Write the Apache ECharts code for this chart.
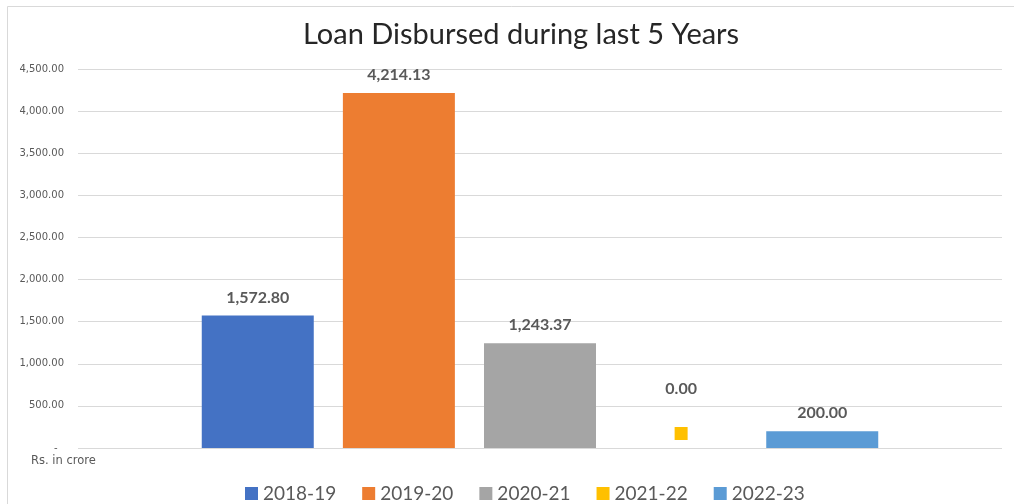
<!DOCTYPE html>
<html>
<head>
<meta charset="utf-8">
<script src="https://cdn.jsdelivr.net/npm/echarts@6/dist/echarts.min.js"></script>
<style>html,body{margin:0;padding:0;background:#fff;}#c{width:1014px;height:504px;}</style>
</head>
<body>
<div id="c"></div>
<script>
const categories = ['Loan Disbursed'];
const seriesNames = ['2018-19', '2019-20', '2020-21', '2021-22', '2022-23'];
const loanValues = [1572.80, 4214.13, 1243.37, 0.00, 200.00];
const colors = ['#4472C4', '#ED7D31', '#A5A5A5', '#FFC000', '#5B9BD5'];
const yTicks = { min: 0, max: 4500, interval: 500 };

function fmt(v) {
  if (v === 0) return '-  ';
  return v.toLocaleString('en-US', { minimumFractionDigits: 2, maximumFractionDigits: 2 });
}
function fmtLabel(v) {
  return v.toLocaleString('en-US', { minimumFractionDigits: 2, maximumFractionDigits: 2 });
}

const chart = echarts.init(document.getElementById('c'));
const series = seriesNames.map((name, i) => {
  const isZero = loanValues[i] === 0;
  return {
    name: name,
    type: 'bar',
    data: [loanValues[i]],
    barWidth: 112,
    barGap: '26%',
    barCategoryGap: '26.5%',
    itemStyle: { color: colors[i] },
    label: isZero ? {
      show: true,
      position: 'top',
      distance: 8,
      formatter: '{v|' + fmtLabel(loanValues[i]) + '}\n{sp|}\n{sq|}',
      rich: {
        v: { fontFamily: 'Lato', fontWeight: 'bold', fontSize: 16, color: '#595959', lineHeight: 20 },
        sp: { height: 28, lineHeight: 28 },
        sq: { width: 13, height: 13, backgroundColor: colors[i], lineHeight: 13 }
      }
    } : {
      show: true,
      position: 'top',
      distance: 10,
      formatter: p => fmtLabel(p.value),
      fontFamily: 'Lato',
      fontWeight: 'bold',
      fontSize: 16,
      color: '#595959'
    }
  };
});

chart.setOption({
  animation: false,
  backgroundColor: '#fff',
  color: colors,
  title: {
    text: 'Loan Disbursed during last 5 Years',
    left: 298,
    top: 15,
    textStyle: { fontFamily: 'Lato', fontWeight: 'normal', fontSize: 29, color: '#262626' }
  },
  legend: {
    bottom: -4,
    left: 240,
    itemWidth: 13,
    itemHeight: 13,
    itemGap: 26,
    icon: 'rect',
    textStyle: { fontFamily: 'Lato', fontSize: 19, color: '#595959' },
    data: seriesNames
  },
  grid: { left: 78, right: 12, top: 69, bottom: 56 },
  xAxis: {
    type: 'category',
    data: categories,
    axisLine: { show: false },
    axisTick: { show: false },
    axisLabel: { show: false }
  },
  yAxis: {
    type: 'value',
    min: yTicks.min,
    max: yTicks.max,
    interval: yTicks.interval,
    axisLine: { show: false },
    axisTick: { show: false },
    splitLine: { lineStyle: { color: '#d9d9d9', width: 1 } },
    axisLabel: {
      formatter: fmt,
      fontFamily: 'DejaVu Sans',
      fontSize: 10,
      color: '#595959',
      margin: 14
    }
  },
  graphic: [
    { type: 'rect', shape: { x: 7.5, y: 6.5, width: 1020, height: 520 }, style: { fill: 'none', stroke: '#d9d9d9', lineWidth: 1 }, silent: true },
    { type: 'text', left: 31, top: 455, style: { text: 'Rs. in crore', fontFamily: 'DejaVu Sans', fontSize: 11.5, fill: '#595959' } }
  ],
  series: series
});
</script>
</body>
</html>
